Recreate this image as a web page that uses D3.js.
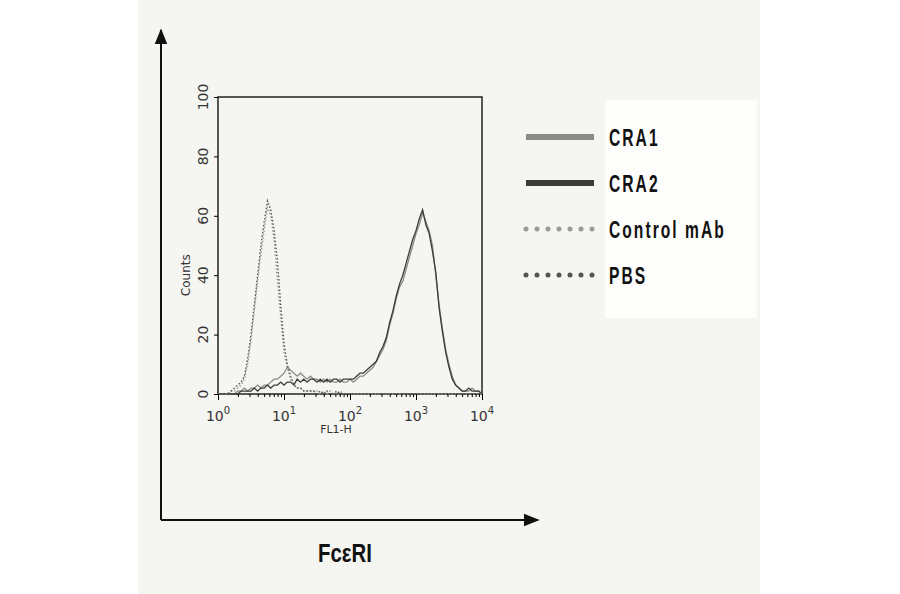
<!DOCTYPE html>
<html><head><meta charset="utf-8">
<script src="https://cdn.jsdelivr.net/npm/d3@7"></script>
<style>body{margin:0;background:#fff}</style>
</head><body>
<svg id="chart" width="900" height="594"></svg>
<script>
// log10 of FL1-H, step 0.05 from 0 to 4
var logX = d3.range(81).map(function(i) { return +(i * 0.05).toFixed(2); });

var cra1 = [0,0,0,0,0,0,1,1,2,1,2,2,3,2,3,3,4,5,5,6,7,9,8,7,6,7,6,5,6,5,5,4,5,4,5,4,4,5,4,4,
            5,4,5,6,6,7,8,9,11,13,15,18,23,27,32,36,38,42,46,50,54,57,61,58,55,50,40,30,22,15,
            10,6,3,2,1,1,1,2,1,1,0];
var cra2 = [0,0,0,0,0,0,0,1,1,1,1,2,1,2,2,3,2,3,3,4,3,4,4,3,5,4,5,4,5,5,4,5,4,5,4,5,5,4,5,5,
            5,5,6,7,7,8,9,10,11,14,16,19,24,28,33,37,40,44,48,52,55,59,62,57,54,48,41,29,21,14,
            9,5,3,2,1,1,2,1,1,1,0];
var ctrl = [0,0,0,0,1,1,2,3,5,10,18,28,38,47,55,63,60,52,38,26,14,9,5,3,2,2,1,1,1,1,
            1,0,1,0,1,0,0,1,0,0,0,0,0,0,0,0,0,0,0,0,0,0,0,0,0,0,0,0,0,0,
            0,0,0,0,0,0,0,0,0,0,0,0,0,0,0,0,0,0,0,0,0];
var pbs  = [0,0,0,0,1,2,3,4,6,12,20,30,40,50,58,65,62,55,45,30,17,10,6,3,2,2,1,1,1,1,
            0,1,0,1,0,0,1,0,0,0,0,0,0,0,0,0,0,0,0,0,0,0,0,0,0,0,0,0,0,0,
            0,0,0,0,0,0,0,0,0,0,0,0,0,0,0,0,0,0,0,0,0];

var seriesNames = ["CRA1", "CRA2", "Control mAb", "PBS"];
var seriesData = [cra1, cra2, ctrl, pbs];
var seriesColor = ["#8a8a8a", "#3c3c3c", "#9a9a9a", "#555"];
var seriesDash = [null, null, "1.5,2", "1.5,2"];
var yTicks = [0, 20, 40, 60, 80, 100];
var xTicks = [0, 1, 2, 3, 4];

var svg = d3.select("svg#chart");

// paper background
svg.append("rect").attr("x", 138).attr("y", 0).attr("width", 622).attr("height", 594)
    .attr("fill", "#f5f5f1");
svg.append("rect").attr("x", 605).attr("y", 100).attr("width", 152).attr("height", 218)
    .attr("fill", "#fdfdfb");

var margin = { left: 218, top: 97, right: 482, bottom: 394 };
var x = d3.scaleLinear().domain([0, 4]).range([margin.left, margin.right]);
var y = d3.scaleLinear().domain([0, 100]).range([margin.bottom, margin.top]);

svg.append("rect").attr("x", margin.left).attr("y", margin.top)
    .attr("width", margin.right - margin.left).attr("height", margin.bottom - margin.top)
    .attr("fill", "none").attr("stroke", "#222").attr("stroke-width", 1.5);

var line = d3.line().x(function(d, i) { return x(logX[i]); }).y(function(d) { return y(d); });

seriesData.forEach(function(s, k) {
    svg.append("path").datum(s)
        .attr("d", line)
        .attr("fill", "none")
        .attr("stroke", seriesColor[k])
        .attr("stroke-width", k < 2 ? 1.3 : 1.4)
        .attr("stroke-dasharray", seriesDash[k]);
});

// y axis
var yAxis = svg.append("g").attr("transform", "translate(" + margin.left + ",0)")
    .call(d3.axisLeft(y).tickValues(yTicks).tickSize(4).tickFormat(""));
yAxis.select(".domain").remove();
yTicks.forEach(function(t) {
    svg.append("text").attr("transform", "translate(" + (margin.left - 10) + "," + y(t) + ") rotate(-90)")
        .attr("text-anchor", "middle").style("font-family", "DejaVu Sans").style("font-size", "14px")
        .attr("fill", "#333").text(t);
});
svg.append("text").attr("transform", "translate(" + 190 + "," + y(40) + ") rotate(-90)")
    .attr("text-anchor", "middle").style("font-family", "DejaVu Sans").style("font-size", "12px")
    .attr("fill", "#333").text("Counts");

// x axis with minor log ticks
var minor = [];
xTicks.slice(0, 4).forEach(function(d) {
    for (var m = 2; m < 10; m++) minor.push(d + Math.log10(m));
});
svg.append("g").attr("transform", "translate(0," + margin.bottom + ")")
    .call(d3.axisBottom(x).tickValues(minor).tickSize(3).tickFormat(""))
    .select(".domain").remove();
svg.append("g").attr("transform", "translate(0," + margin.bottom + ")")
    .call(d3.axisBottom(x).tickValues(xTicks).tickSize(6).tickFormat(""))
    .select(".domain").remove();
xTicks.forEach(function(t) {
    var tx = svg.append("text").attr("x", x(t)).attr("y", margin.bottom + 27)
        .attr("text-anchor", "middle").style("font-family", "DejaVu Sans").style("font-size", "14px")
        .attr("fill", "#333");
    tx.append("tspan").text("10");
    tx.append("tspan").attr("dy", -7).style("font-size", "10px").text(t);
});
svg.append("text").attr("x", x(2) - 14).attr("y", margin.bottom + 39)
    .attr("text-anchor", "middle").style("font-family", "DejaVu Sans").style("font-size", "11px")
    .attr("fill", "#333").text("FL1-H");

// big arrows
svg.append("defs").append("marker").attr("id", "arr").attr("viewBox", "0 0 10 10")
    .attr("refX", 9).attr("refY", 5).attr("markerWidth", 8).attr("markerHeight", 8)
    .attr("orient", "auto").append("path").attr("d", "M0,1 L10,5 L0,9 Z").attr("fill", "#111");
svg.append("line").attr("x1", 161).attr("y1", 520).attr("x2", 161).attr("y2", 30)
    .attr("stroke", "#111").attr("stroke-width", 2).attr("marker-end", "url(#arr)");
svg.append("line").attr("x1", 161).attr("y1", 520).attr("x2", 538).attr("y2", 520)
    .attr("stroke", "#111").attr("stroke-width", 2).attr("marker-end", "url(#arr)");
svg.append("text").attr("transform", "translate(345,562) scale(0.85,1.1)").attr("text-anchor", "middle")
    .style("font-family", "Liberation Sans").style("font-weight", "bold")
    .style("font-size", "24px").attr("fill", "#111").text("FcεRI");

// legend
seriesNames.forEach(function(n, k) {
    var ly = 137 + k * 46;
    var l = svg.append("line").attr("x1", 526).attr("x2", 594).attr("y1", ly).attr("y2", ly)
        .attr("stroke", seriesColor[k]);
    if (k < 2) l.attr("stroke-width", 6);
    else l.attr("stroke-width", 5).attr("stroke-dasharray", "0,11").attr("stroke-linecap", "round");
    svg.append("text").attr("transform", "translate(609," + (ly + 9) + ") scale(0.82,1.25)")
        .style("font-family", "Liberation Sans").style("font-weight", "bold")
        .style("font-size", "19px").style("letter-spacing", "2.5px").attr("fill", "#111").text(n);
});
</script>
</body></html>
